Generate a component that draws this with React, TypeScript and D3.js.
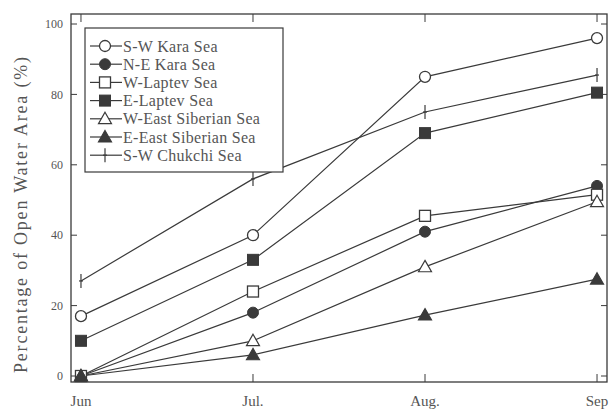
import React from "react";
import * as d3 from "d3";

const months = ["Jun", "Jul.", "Aug.", "Sep"];
const yTicks = [0, 20, 40, 60, 80, 100];

const seriesNames = [
  "S-W Kara Sea",
  "N-E Kara Sea",
  "W-Laptev Sea",
  "E-Laptev Sea",
  "W-East Siberian Sea",
  "E-East Siberian Sea",
  "S-W Chukchi Sea",
];
const swKara = [17, 40, 85, 96];
const neKara = [0, 18, 41, 54];
const wLaptev = [0, 24, 45.5, 51.5];
const eLaptev = [10, 33, 69, 80.5];
const wEastSib = [0, 10, 31, 49.5];
const eEastSib = [0, 6, 17.3, 27.5];
const swChukchi = [27, 56, 75, 85.5];

const seriesValues = [swKara, neKara, wLaptev, eLaptev, wEastSib, eEastSib, swChukchi];
const markerTypes = ["circleOpen", "circleFilled", "squareOpen", "squareFilled", "triOpen", "triFilled", "plus"];

const W = 612, H = 412;
const left = 71, right = 607, top = 14, bottom = 382;
const ink = "#3a3a3a";
const textCol = "#555";
const font = "'Liberation Serif', 'DejaVu Serif', serif";

function Marker({ type, x, y }: { type: string; x: number; y: number }) {
  const s = 5.5;
  const fillOpen = "#fff";
  switch (type) {
    case "circleOpen":
      return <circle cx={x} cy={y} r={s} fill={fillOpen} stroke={ink} strokeWidth={1.3} />;
    case "circleFilled":
      return <circle cx={x} cy={y} r={s} fill={ink} stroke={ink} strokeWidth={1} />;
    case "squareOpen":
      return <rect x={x - s} y={y - s} width={2 * s} height={2 * s} fill={fillOpen} stroke={ink} strokeWidth={1.3} />;
    case "squareFilled":
      return <rect x={x - s} y={y - s} width={2 * s} height={2 * s} fill={ink} stroke={ink} strokeWidth={1} />;
    case "triOpen":
    case "triFilled": {
      const t = 6.5;
      const pts = `${x},${y - t} ${x + t},${y + t * 0.75} ${x - t},${y + t * 0.75}`;
      return (
        <polygon points={pts} fill={type === "triOpen" ? fillOpen : ink} stroke={ink} strokeWidth={1.2} />
      );
    }
    case "plus":
    default:
      return (
        <g stroke={ink} strokeWidth={1.2}>
          <line x1={x} x2={x} y1={y - 7} y2={y + 7} />
          <line x1={x - 2} x2={x + 2} y1={y} y2={y} />
        </g>
      );
  }
}

export default function App() {
  const x = d3.scalePoint<string>().domain(months).range([left, right]).padding(0.058);
  const y = d3.scaleLinear().domain([0, 100]).range([376, 24]);
  const line = d3
    .line<number>()
    .x((_, i) => x(months[i]) as number)
    .y((d) => y(d));

  const legX = 85, legY = 28, legW = 198, legH = 144;
  const legRow = 18.2;

  return (
    <svg width={W} height={H} style={{ position: "absolute", left: 0, top: 0, background: "#fff" }}>
      <rect width={W} height={H} fill="#fff" />
      {/* frame */}
      <rect x={left} y={top} width={right - left} height={bottom - top} fill="none" stroke={ink} strokeWidth={1.3} />
      {/* y ticks */}
      {yTicks.map((t) => (
        <g key={t}>
          <line x1={left} x2={left + 6} y1={y(t)} y2={y(t)} stroke={ink} strokeWidth={1} />
          <line x1={right - 6} x2={right} y1={y(t)} y2={y(t)} stroke={ink} strokeWidth={1} />
          <text x={left - 8} y={y(t)} dy="0.35em" textAnchor="end" fontSize={12} fill={textCol} fontFamily={font}>
            {t}
          </text>
        </g>
      ))}
      {/* x ticks */}
      {months.map((m) => (
        <g key={m}>
          <line x1={x(m)} x2={x(m)} y1={bottom} y2={bottom - 8} stroke={ink} strokeWidth={1} />
          <line x1={x(m)} x2={x(m)} y1={top} y2={top + 8} stroke={ink} strokeWidth={1} />
          <text x={x(m)} y={bottom + 24} textAnchor="middle" fontSize={15} fill={textCol} fontFamily={font}>
            {m}
          </text>
        </g>
      ))}
      {/* axis title */}
      <text
        transform={`translate(21,215) rotate(-90)`}
        textAnchor="middle"
        dy="0.35em"
        fontSize={18}
        fill={textCol}
        fontFamily={font}
        textLength={316}
        lengthAdjust="spacing"
      >
        Percentage of Open Water Area (%)
      </text>
      {/* lines */}
      {seriesValues.map((vals, i) => (
        <path key={i} d={line(vals) || ""} fill="none" stroke={ink} strokeWidth={1.2} />
      ))}
      {/* legend */}
      <rect x={legX} y={legY} width={legW} height={legH} fill="#fff" stroke={ink} strokeWidth={1.2} />
      {seriesNames.map((n, i) => {
        const cy = legY + 18 + i * legRow;
        return (
          <g key={n}>
            <line x1={90} x2={122} y1={cy} y2={cy} stroke={ink} strokeWidth={1.2} />
            <Marker type={markerTypes[i]} x={105} y={cy} />
            <text x={123} y={cy} dy="0.35em" fontSize={16} fill={textCol} fontFamily={font} letterSpacing={0.3}>
              {n}
            </text>
          </g>
        );
      })}
      {/* markers */}
      {seriesValues.map((vals, i) =>
        vals.map((v, j) => <Marker key={`${i}-${j}`} type={markerTypes[i]} x={x(months[j]) as number} y={y(v)} />)
      )}
    </svg>
  );
}
